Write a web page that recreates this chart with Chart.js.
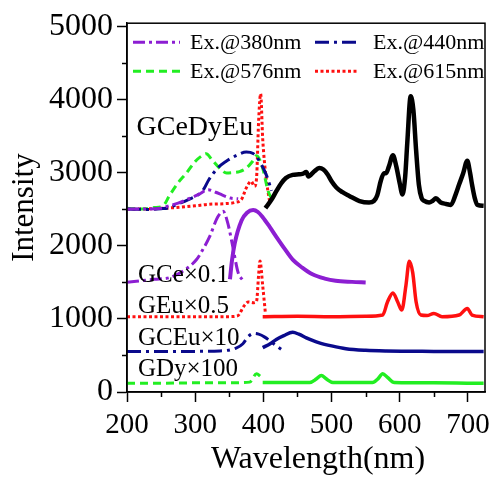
<!DOCTYPE html>
<html>
<head>
<meta charset="utf-8">
<script src="https://cdn.jsdelivr.net/npm/chart.js@4"></script>
<style>
  html, body { margin: 0; padding: 0; background: #fff; }
</style>
</head>
<body>
<canvas id="spectra" width="494" height="481"></canvas>
<script>
// GCeDyEu emission (solid black)
const mixEmX = [403, 412, 419, 426, 433, 443, 452, 457, 463, 466, 474, 482, 488, 494, 500, 507, 516, 526, 541, 555, 562, 567, 572, 577, 580, 584, 590, 595, 600, 604, 608, 611, 616, 620, 624, 628, 632, 636, 643, 648, 653, 660, 668, 675, 682, 687, 693, 699, 703, 706, 710, 714, 723];
const mixEmY = [2513, 2630, 2745, 2850, 2925, 2968, 2975, 2980, 3005, 2945, 3010, 3060, 3040, 2975, 2880, 2795, 2730, 2680, 2610, 2590, 2610, 2690, 2880, 2990, 2990, 3080, 3235, 3080, 2850, 2700, 2950, 3400, 4040, 3850, 3300, 2834, 2650, 2611, 2590, 2610, 2647, 2590, 2570, 2557, 2700, 2834, 2990, 3160, 3000, 2834, 2650, 2557, 2545];

// GCeDyEu excitation spectra
const mixEx380X = [200, 230, 250, 260, 275, 290, 305, 319, 330, 340, 352, 363];
const mixEx380Y = [2500, 2500, 2510, 2540, 2580, 2640, 2700, 2765, 2730, 2690, 2650, 2640];
const mixEx440X = [200, 230, 250, 260, 275, 290, 305, 313, 320, 333, 345, 360, 375, 385, 397, 405, 412];
const mixEx440Y = [2500, 2495, 2505, 2515, 2570, 2630, 2700, 2780, 2900, 3060, 3150, 3230, 3280, 3260, 3110, 2950, 2750];
const mixEx576X = [200, 220, 240, 253, 262, 275, 287, 300, 310, 316, 325, 336, 346, 356, 365, 375, 384, 390, 399, 407, 414];
const mixEx576Y = [2510, 2500, 2520, 2545, 2680, 2860, 2990, 3150, 3230, 3257, 3170, 3057, 2994, 3000, 3012, 3060, 3150, 3230, 3057, 2745, 2610];
const mixEx615X = [200, 240, 270, 300, 320, 345, 358, 368, 375, 382, 387, 390, 393, 396, 399, 404, 409];
const mixEx615Y = [2500, 2505, 2520, 2545, 2565, 2575, 2590, 2634, 2790, 2880, 2810, 2925, 3700, 4075, 3460, 2925, 2611];

// GCe x0.1
const ceExX = [200, 240, 263, 285, 302, 312, 321, 333, 341, 348, 355, 363, 370];
const ceExY = [1500, 1540, 1564, 1670, 1810, 1960, 2120, 2390, 2469, 2300, 1992, 1631, 1524];
const ceEmX = [351, 354, 358, 368, 376, 385, 392, 399, 409, 419, 431, 443, 457, 472, 490, 506, 530, 550];
const ceEmY = [1541, 1800, 2032, 2344, 2450, 2487, 2460, 2389, 2260, 2121, 1960, 1809, 1700, 1608, 1550, 1520, 1505, 1497];

// GEu x0.5
const euExX = [200, 250, 300, 350, 362, 372, 378, 386, 390, 393, 395, 399, 403];
const euExY = [1030, 1030, 1030, 1030, 1040, 1180, 1230, 1220, 1240, 1600, 1790, 1453, 1074];
const euEmX = [399, 450, 500, 550, 575, 582, 590, 597, 603, 609, 614, 619, 624, 631, 640, 650, 662, 687, 699, 706, 723];
const euEmY = [1029, 1035, 1030, 1035, 1052, 1230, 1354, 1230, 1119, 1453, 1787, 1631, 1230, 1052, 1045, 1074, 1029, 1052, 1141, 1052, 1029];

// GCEu x10
const cEuExX = [200, 250, 300, 336, 360, 370, 378, 386, 393, 402, 412, 426];
const cEuExY = [552, 552, 555, 561, 600, 660, 760, 800, 790, 750, 680, 584];
const cEuEmX = [399, 410, 419, 430, 443, 452, 463, 472, 482, 500, 521, 550, 580, 650, 723];
const cEuEmY = [606, 660, 718, 770, 815, 790, 740, 705, 672, 630, 592, 570, 561, 555, 552];

// GDy x100
const dyExX = [200, 250, 300, 350, 380, 390, 396];
const dyExY = [120, 120, 125, 125, 135, 250, 210];
const dyEmX = [399, 440, 468, 478, 485, 492, 502, 560, 568, 575, 582, 592, 650, 723];
const dyEmY = [130, 130, 130, 180, 227, 180, 130, 130, 180, 250, 200, 130, 125, 118];

const xTicks = [200, 300, 400, 500, 600, 700];
const yTicks = [0, 1000, 2000, 3000, 4000, 5000];
const legendNames = ["Ex.@380nm", "Ex.@440nm", "Ex.@576nm", "Ex.@615nm"];
const sampleNames = ["GCeDyEu", "GCe\u00d70.1", "GEu\u00d70.5", "GCEu\u00d710", "GDy\u00d7100"];

const PURPLE = "#8c1ed2", NAVY = "#0a0a8c", GREEN = "#22ee22", RED = "#ff1010";
const SERIF = "'Liberation Serif', 'Times New Roman', serif";

function pts(xs, ys) {
  return xs.map((x, i) => ({ x: x, y: ys[i] }));
}

function line(xs, ys, color, width, dash) {
  return {
    data: pts(xs, ys),
    borderColor: color,
    borderWidth: width,
    borderDash: dash || [],
    pointRadius: 0,
    fill: false,
    cubicInterpolationMode: "monotone"
  };
}

const dashDot1 = [12, 4, 3, 4];
const dashDot2 = [14, 5, 3, 5];
const dashed = [8, 5];
const dotted = [3, 2.5];

// draws the plot frame, minor ticks, sample names and the inside legend
const extras = {
  id: "extras",
  afterDraw(chart) {
    const ctx = chart.ctx;
    const a = chart.chartArea;
    const xs = chart.scales.x, ys = chart.scales.y;
    ctx.save();
    ctx.strokeStyle = "#000";
    ctx.lineWidth = 1.5;
    ctx.setLineDash([]);
    ctx.strokeRect(a.left, a.top, a.right - a.left, a.bottom - a.top);

    // minor ticks
    ctx.beginPath();
    for (let v = 250; v < 725; v += 100) {
      const px = Math.round(xs.getPixelForValue(v)) + 0.5;
      ctx.moveTo(px, a.bottom);
      ctx.lineTo(px, a.bottom + 5);
    }
    for (let v = 500; v < 5040; v += 1000) {
      const py = Math.round(ys.getPixelForValue(v)) + 0.5;
      ctx.moveTo(a.left, py);
      ctx.lineTo(a.left - 5, py);
    }
    ctx.stroke();

    // sample names
    ctx.fillStyle = "#000";
    ctx.textBaseline = "alphabetic";
    ctx.textAlign = "left";
    ctx.font = "28px " + SERIF;
    ctx.fillText(sampleNames[0], xs.getPixelForValue(214), ys.getPixelForValue(3507));
    ctx.font = "25px " + SERIF;
    const nameY = [1507, 1080, 640, 213];
    for (let i = 1; i < sampleNames.length; i++) {
      ctx.fillText(sampleNames[i], xs.getPixelForValue(216), ys.getPixelForValue(nameY[i - 1]));
    }

    // legend
    ctx.font = "22px " + SERIF;
    ctx.textBaseline = "middle";
    for (let i = 0; i < legendNames.length; i++) {
      const ds = chart.data.datasets[i + 1];
      const col = i % 2, row = Math.floor(i / 2);
      const x0 = a.left + (col === 0 ? 6 : 188);
      const y0 = a.top + 19 + row * 29;
      ctx.strokeStyle = ds.borderColor;
      ctx.lineWidth = 3;
      ctx.setLineDash(ds.borderDash);
      ctx.beginPath();
      ctx.moveTo(x0, y0);
      ctx.lineTo(x0 + (col === 0 ? 47 : 43), y0);
      ctx.stroke();
      ctx.fillStyle = "#000";
      ctx.fillText(legendNames[i], x0 + (col === 0 ? 57 : 58), y0 + 1);
    }
    ctx.restore();
  }
};

new Chart(document.getElementById("spectra").getContext("2d"), {
  type: "line",
  data: {
    datasets: [
      line(mixEmX, mixEmY, "#000", 4.5),
      line(mixEx380X, mixEx380Y, PURPLE, 3, dashDot1),
      line(mixEx440X, mixEx440Y, NAVY, 3, dashDot2),
      line(mixEx576X, mixEx576Y, GREEN, 3, dashed),
      line(mixEx615X, mixEx615Y, RED, 3, dotted),
      line(ceExX, ceExY, PURPLE, 3, dashDot1),
      line(ceEmX, ceEmY, PURPLE, 4),
      line(euExX, euExY, RED, 3, dotted),
      line(euEmX, euEmY, RED, 3.5),
      line(cEuExX, cEuExY, NAVY, 3, dashDot2),
      line(cEuEmX, cEuEmY, NAVY, 3.5),
      line(dyExX, dyExY, GREEN, 3, dashed),
      line(dyEmX, dyEmY, GREEN, 3.5)
    ]
  },
  options: {
    responsive: false,
    animation: false,
    devicePixelRatio: 1,
    layout: { padding: { left: 0, right: 9, top: 14, bottom: 0 } },
    plugins: { legend: { display: false }, tooltip: { enabled: false } },
    scales: {
      x: {
        type: "linear",
        min: 200,
        max: 725,
        afterFit(s) { s.height = 89; s.paddingLeft = 0; s.paddingRight = 0; },
        afterBuildTicks(s) { s.ticks = xTicks.map(v => ({ value: v })); },
        border: { display: true, color: "#000", width: 1.5 },
        grid: { drawOnChartArea: false, drawTicks: true, tickLength: 10, tickColor: "#000", tickWidth: 1.5 },
        ticks: { color: "#000", padding: 6, maxRotation: 0, callback: v => String(v), font: { family: SERIF, size: 29 } },
        title: { display: true, text: "\u00a0\u00a0\u00a0Wavelength(nm)", color: "#000", padding: { top: 0, bottom: 2 }, font: { family: SERIF, size: 32 } }
      },
      y: {
        min: 0,
        max: 5040,
        afterFit(s) { s.width = 127; },
        afterBuildTicks(s) { s.ticks = yTicks.map(v => ({ value: v })); },
        border: { display: true, color: "#000", width: 1.5 },
        grid: { drawOnChartArea: false, drawTicks: true, tickLength: 10, tickColor: "#000", tickWidth: 1.5 },
        ticks: { color: "#000", padding: 4, callback: v => String(v), font: { family: SERIF, size: 32 } },
        title: { display: true, text: "Intensity", color: "#000", padding: { top: 6, bottom: 0 }, font: { family: SERIF, size: 31 } }
      }
    }
  },
  plugins: [extras]
});
</script>
</body>
</html>
